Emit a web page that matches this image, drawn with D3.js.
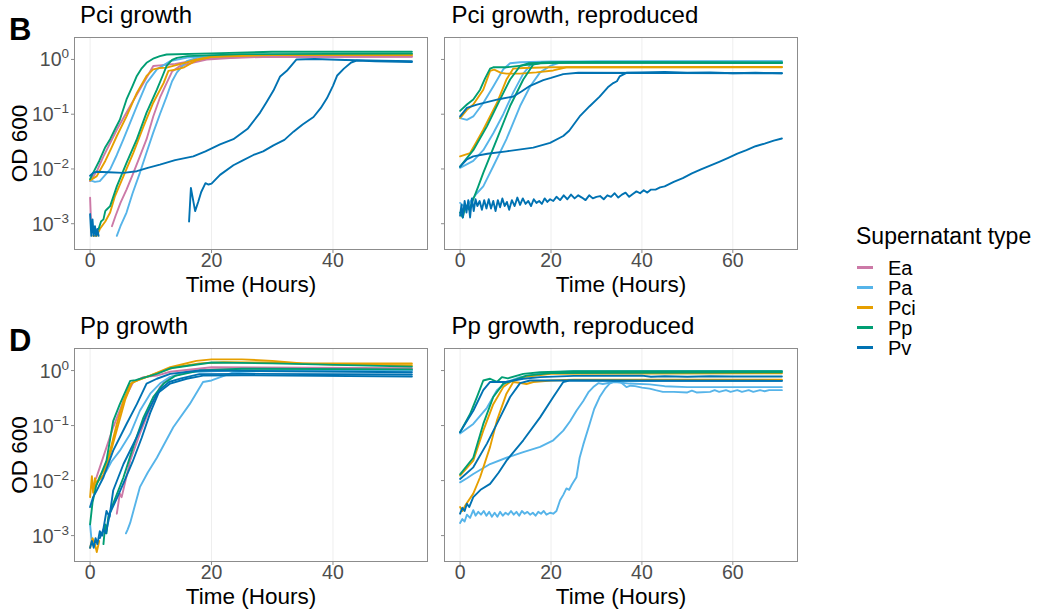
<!DOCTYPE html>
<html>
<head>
<meta charset="utf-8">
<script src="https://cdn.jsdelivr.net/npm/d3@7"></script>
<style>
  html, body { margin: 0; padding: 0; background: #fff; }
  svg { display: block; font-family: "Liberation Sans", Arial, Helvetica, sans-serif; }
</style>
</head>
<body>
<svg id="chart" width="1037" height="609"></svg>
<script>
// Supernatant types and their colours (Okabe-Ito palette)
const supernatantTypes = ["Ea", "Pa", "Pci", "Pp", "Pv"];
const typeColors = ["#CC79A7", "#56B4E9", "#E69F00", "#009E73", "#0072B2"];

// Axis ticks
const yTickValues = [1e-3, 1e-2, 1e-1, 1];
const yTickExponents = ["\u22123", "\u22122", "\u22121", "0"];
const xTicksShort = [0, 20, 40];
const xTicksLong = [0, 20, 40, 60];

// OD600 growth curves: [hours, OD600]
const pciGrowth = [
  { type: "Ea", points: [[0, 0.006], [1.2, 0.0095], [2.2, 0.017], [4.4, 0.052], [6.6, 0.141], [8.8, 0.37], [10.4, 0.76], [11.5, 0.78], [12.5, 0.8], [14, 0.83], [17, 0.95], [20, 1.05], [30, 1.12], [53, 1.13]] },
  { type: "Ea", points: [[0, 0.003], [0.15, 0.0011]] },
  { type: "Ea", points: [[3.6, 0.0009], [4.2, 0.0014], [5, 0.0024], [6, 0.0042], [7, 0.0078], [8.2, 0.017], [9.3, 0.035], [10.4, 0.091], [11.5, 0.2], [12.6, 0.37], [13.5, 0.6], [14.8, 0.76], [17, 0.88], [19.2, 1.0], [25, 1.1], [53, 1.12]] },
  { type: "Pa", points: [[0, 0.0062], [0.8, 0.0058], [1.6, 0.006], [3.3, 0.0098], [4.4, 0.018], [5.5, 0.035], [6.6, 0.07], [7.7, 0.141], [9.3, 0.37], [11, 0.66], [13.2, 0.93], [16, 1.08], [20, 1.18], [53, 1.25]] },
  { type: "Pa", points: [[4.4, 0.0006], [5, 0.0009], [6, 0.0016], [7, 0.0036], [8.2, 0.0085], [9.3, 0.02], [10.4, 0.046], [11.5, 0.1], [12.6, 0.21], [13.5, 0.4], [14.3, 0.58], [15.9, 0.93], [18, 1.1], [25, 1.2], [53, 1.25]] },
  { type: "Pci", points: [[0, 0.0062], [1.1, 0.0074], [2.5, 0.014], [3.5, 0.024], [4.4, 0.04], [6, 0.091], [7.7, 0.245], [9.3, 0.5], [10.4, 0.66], [11.5, 0.7], [12.6, 0.71], [14, 0.78], [16, 0.89], [17.5, 1.0], [20, 1.12], [25, 1.2], [53, 1.22]] },
  { type: "Pci", points: [[0.5, 0.0006], [1.1, 0.0006], [1.6, 0.0008], [2.5, 0.0011], [3.3, 0.0016], [4.1, 0.0032], [5.5, 0.0074], [7.1, 0.0195], [8.8, 0.06], [10.4, 0.162], [12.1, 0.37], [12.9, 0.62], [14.3, 0.66], [15.5, 0.72], [17.4, 0.95], [20, 1.12], [30, 1.2], [53, 1.2]] },
  { type: "Pp", points: [[0, 0.0065], [0.5, 0.0085], [1.5, 0.014], [2.5, 0.025], [3.3, 0.035], [4.2, 0.056], [4.9, 0.079], [6, 0.186], [7, 0.33], [7.7, 0.5], [8.5, 0.69], [9.3, 0.87], [10.5, 1.05], [11.5, 1.15], [12.6, 1.23], [20, 1.29], [30, 1.38], [53, 1.38]] },
  { type: "Pp", points: [[1.4, 0.0008], [1.8, 0.0011], [2.2, 0.0012], [2.5, 0.0017], [2.7, 0.0018], [3.3, 0.0021], [4.4, 0.0048], [6, 0.0129], [7.7, 0.035], [9.3, 0.107], [11, 0.28], [12, 0.52], [12.6, 0.76], [13.5, 0.98], [14.3, 1.07], [16, 1.15], [25, 1.25], [53, 1.28]] },
  { type: "Pv", points: [[0, 0.0075], [0.5, 0.0085], [1.1, 0.0089], [3, 0.0087], [5.5, 0.0085], [7.7, 0.0091], [9.5, 0.0105], [11.5, 0.012], [14, 0.0145], [17, 0.017], [19, 0.021], [21.4, 0.028], [23.6, 0.035], [26, 0.055], [28, 0.107], [29, 0.162], [30.2, 0.27], [31.3, 0.49], [32.4, 0.62], [34, 1.0], [37, 1.02], [42, 0.98], [48, 0.95], [53, 0.93]] },
  { type: "Pv", points: [[0, 0.0015], [0.2, 0.0006], [0.4, 0.0012], [0.6, 0.0006], [0.8, 0.0009], [1.0, 0.0006], [1.2, 0.0008], [1.4, 0.0006]] },
  { type: "Pv", points: [[16.3, 0.0011], [16.6, 0.0045], [17.3, 0.0017], [17.8, 0.0025], [18.3, 0.0038], [19, 0.0055], [19.5, 0.0052], [20, 0.0054], [21.4, 0.0078], [23.6, 0.0117], [25, 0.014], [26.9, 0.018], [28.5, 0.021], [30.2, 0.027], [32, 0.034], [33.5, 0.048], [35, 0.065], [36.8, 0.089], [38, 0.13], [39, 0.195], [40, 0.33], [40.7, 0.51], [41.8, 0.68], [43, 0.88], [43.9, 0.95], [47, 0.93], [53, 0.9]] }
];

const pciGrowthReproduced = [
  { type: "Pa", points: [[0, 0.085], [1.5, 0.079], [2.9, 0.091], [5.1, 0.16], [7.3, 0.32], [9.5, 0.66], [11, 0.85], [13.2, 0.89], [20, 0.92], [70.8, 0.92]] },
  { type: "Pa", points: [[0, 0.0105], [2.9, 0.014], [5.1, 0.022], [7.3, 0.045], [9.5, 0.1], [11.7, 0.25], [13.9, 0.55], [15.4, 0.78], [17, 0.88], [25, 0.9], [70.8, 0.9]] },
  { type: "Pa", points: [[0, 0.0024], [0.8, 0.0021], [1.5, 0.0021], [2.5, 0.0027], [3.7, 0.0036], [5.1, 0.0048], [7.3, 0.0112], [10.2, 0.035], [13.2, 0.141], [15.4, 0.32], [17.6, 0.58], [19.8, 0.76], [22, 0.88], [30, 0.92], [70.8, 0.93]] },
  { type: "Pci", points: [[0, 0.085], [1.5, 0.12], [2.9, 0.15], [5.1, 0.28], [6.6, 0.62], [7.5, 0.65], [9, 0.57], [10.2, 0.55], [13.2, 0.55], [16.8, 0.58], [20.5, 0.63], [23.4, 0.72], [70.8, 0.73]] },
  { type: "Pci", points: [[0, 0.017], [2.2, 0.0195], [3.5, 0.03], [5.1, 0.052], [8.1, 0.16], [10.2, 0.43], [11.7, 0.68], [14, 0.7], [20, 0.72], [70.8, 0.72]] },
  { type: "Pp", points: [[0, 0.115], [1.5, 0.15], [2.9, 0.186], [4.4, 0.28], [5.5, 0.45], [6.6, 0.68], [7.3, 0.72], [10.2, 0.72], [13.9, 0.78], [17.6, 0.85], [25, 0.89], [70.8, 0.87]] },
  { type: "Pp", points: [[0, 0.011], [2.9, 0.022], [5.9, 0.06], [8.8, 0.186], [11, 0.43], [13.2, 0.76], [15, 0.85], [20, 0.88], [70.8, 0.86]] },
  { type: "Pp", points: [[0, 0.0016], [0.6, 0.0013], [1.2, 0.0022], [2, 0.0018], [2.9, 0.0028], [4, 0.0048], [5.1, 0.0085], [8.1, 0.035], [11, 0.141], [13.9, 0.43], [16.1, 0.81], [18, 0.87], [25, 0.89], [70.8, 0.88]] },
  { type: "Pv", points: [[0, 0.091], [1.5, 0.13], [3.7, 0.15], [8.8, 0.19], [11.7, 0.21], [13.5, 0.26], [15.4, 0.33], [18.3, 0.42], [20, 0.46], [22.7, 0.54], [26, 0.57], [70.8, 0.56]] },
  { type: "Pv", points: [[0, 0.011], [1.5, 0.015], [2.9, 0.017], [6, 0.019], [10.2, 0.021], [16.1, 0.0245], [19.8, 0.03], [22.7, 0.04], [24, 0.05], [26.3, 0.091], [28.5, 0.14], [30.7, 0.21], [32.5, 0.31], [33.7, 0.37], [34.5, 0.4], [35.1, 0.49], [36.6, 0.57], [40, 0.58], [45, 0.59], [50, 0.57], [55, 0.58], [60, 0.56], [65, 0.57], [70.8, 0.56]] },
  { type: "Pv", points: [[0, 0.0014], [0.3, 0.0022], [0.6, 0.0013], [1.0, 0.0026], [1.4, 0.0016], [1.8, 0.0027], [2.2, 0.0013], [2.6, 0.0029], [3.0, 0.0017], [3.4, 0.0028], [3.8, 0.0021], [4.3, 0.0026], [4.8, 0.0018], [5.3, 0.0027], [5.8, 0.0019], [6.3, 0.0028], [6.8, 0.0019], [7.3, 0.0026], [7.8, 0.0017], [8.3, 0.0027], [8.8, 0.002], [9.3, 0.0029], [9.8, 0.0021], [10.3, 0.0025], [10.8, 0.0018], [11.4, 0.0027], [12, 0.0021], [12.6, 0.003], [13.2, 0.0022], [13.8, 0.0029], [14.4, 0.0023], [15, 0.0026], [15.6, 0.0021], [16.2, 0.0028], [16.8, 0.0024], [17.4, 0.0026], [18, 0.0023], [18.6, 0.0029], [19.2, 0.0025], [19.8, 0.0028], [20.5, 0.0026], [21.2, 0.0031], [22, 0.0027], [22.8, 0.0033], [23.6, 0.0028], [24.4, 0.0034], [25.2, 0.0029], [26, 0.0033], [26.8, 0.003], [27.6, 0.0027], [28.4, 0.0033], [29.2, 0.0029], [30, 0.0031], [30.8, 0.0032], [31.6, 0.0028], [32.4, 0.0033], [33.2, 0.0031], [34, 0.0036], [34.8, 0.003], [35.6, 0.0034], [36.4, 0.0037], [37.2, 0.0031], [38, 0.0035], [38.8, 0.0039], [39.6, 0.0036], [40.4, 0.0041], [41.2, 0.0037], [42, 0.0042], [43, 0.0042], [44, 0.0046], [45, 0.0048], [47, 0.0058], [49, 0.0068], [51, 0.0083], [53, 0.0098], [55, 0.0115], [57, 0.0135], [59, 0.016], [61, 0.019], [63, 0.022], [65, 0.026], [67, 0.029], [69, 0.033], [70.8, 0.036]] }
];

const ppGrowth = [
  { type: "Ea", points: [[1, 0.011], [1.6, 0.0174], [3.8, 0.093], [5.5, 0.28], [7.1, 0.62], [8.8, 0.76], [11, 0.81], [13.2, 0.95], [20, 1.15], [53, 1.1]] },
  { type: "Ea", points: [[4.4, 0.0025], [4.9, 0.0058], [5.2, 0.005], [6.6, 0.023], [8.2, 0.071], [9.9, 0.21], [11.5, 0.5], [13.2, 0.76], [16, 0.95], [20, 1.05], [53, 1.07]] },
  { type: "Pa", points: [[0, 0.0016], [0.3, 0.0007]] },
  { type: "Pa", points: [[1, 0.009], [1.8, 0.011], [2.7, 0.015], [3.5, 0.022], [4.9, 0.035], [6.6, 0.07], [8.2, 0.186], [9.9, 0.38], [11.5, 0.58], [13, 0.75], [16, 0.93], [25, 1.02], [53, 1.0]] },
  { type: "Pa", points: [[5.9, 0.0011], [6.2, 0.0013], [6.6, 0.0017], [8.2, 0.0076], [9.5, 0.014], [11, 0.026], [13.7, 0.093], [16.4, 0.245], [18.6, 0.62], [20, 0.66], [23.6, 0.93], [30, 1.0], [53, 1.0]] },
  { type: "Pci", points: [[0, 0.005], [0.3, 0.012], [0.5, 0.006], [0.8, 0.011], [1.1, 0.0087], [1.6, 0.012], [2.2, 0.015], [3.3, 0.035], [4.4, 0.107], [5.5, 0.28], [6.6, 0.57], [7.7, 0.66], [9.9, 0.81], [13.2, 1.15], [17.5, 1.5], [20, 1.6], [25, 1.6], [30, 1.5], [35, 1.35], [45, 1.35], [53, 1.35]] },
  { type: "Pci", points: [[0, 0.0006], [0.4, 0.0009], [0.8, 0.0007], [1.1, 0.0005], [1.5, 0.0008]] },
  { type: "Pci", points: [[0.6, 0.007], [1.2, 0.0095], [2.2, 0.0125], [3.3, 0.03], [4.6, 0.1], [5.8, 0.3], [6.9, 0.6], [8, 0.68], [10.5, 0.86], [14, 1.15], [18, 1.35], [22, 1.42], [30, 1.4], [40, 1.28], [53, 1.25]] },
  { type: "Pp", points: [[0, 0.0016], [0.4, 0.004], [1, 0.008], [1.6, 0.0115], [2.7, 0.023], [3.8, 0.12], [4.9, 0.245], [6.6, 0.65], [7.5, 0.67], [11, 0.87], [13.2, 1.1], [20, 1.4], [30, 1.35], [53, 1.18]] },
  { type: "Pp", points: [[2.2, 0.0007], [2.5, 0.0016], [2.7, 0.0011], [3.0, 0.0022], [3.8, 0.0038], [5.5, 0.0115], [7.1, 0.041], [8.8, 0.141], [10.4, 0.33], [12.1, 0.58], [14, 0.8], [18, 1.0], [25, 1.08], [53, 1.05]] },
  { type: "Pv", points: [[0, 0.0033], [0.5, 0.005], [1, 0.0063], [2.2, 0.0115], [3.8, 0.035], [6, 0.107], [7.7, 0.245], [9.3, 0.58], [11, 0.71], [13.2, 0.87], [18, 1.0], [53, 0.93]] },
  { type: "Pv", points: [[0, 0.0006], [0.3, 0.0008], [0.6, 0.0006], [0.9, 0.0009], [1.2, 0.0007], [1.6, 0.0012], [2, 0.001], [2.7, 0.0028], [3.2, 0.0022], [3.8, 0.0066], [5.5, 0.02], [7.7, 0.062], [9.3, 0.16], [11, 0.38], [13.2, 0.58], [15.9, 0.71], [18.6, 0.81], [25, 0.82], [53, 0.78]] },
  { type: "Pv", points: [[1.6, 0.0009], [2.2, 0.0013], [2.6, 0.0011], [3.3, 0.0026], [4.5, 0.005], [5.5, 0.009], [7, 0.022], [8.5, 0.06], [9.9, 0.17], [11.5, 0.45], [13, 0.62], [15, 0.72], [18, 0.86], [25, 0.87], [53, 0.85]] }
];

const ppGrowthReproduced = [
  { type: "Pa", points: [[0, 0.072], [2.9, 0.107], [5.9, 0.21], [8.1, 0.44], [10.2, 0.62], [13.2, 0.76], [18, 0.9], [25, 0.97], [70.8, 0.98]] },
  { type: "Pa", points: [[0, 0.0093], [1.5, 0.011], [2.9, 0.0132], [6.6, 0.02], [10.2, 0.026], [13.9, 0.033], [17.6, 0.041], [20.5, 0.054], [22.7, 0.081], [24.2, 0.12], [25.6, 0.186], [27.1, 0.28], [28.3, 0.41], [29.3, 0.5], [30.4, 0.59], [31.4, 0.57], [32.9, 0.6], [34, 0.62], [37.3, 0.58], [41.7, 0.56], [45, 0.52], [50, 0.5], [60, 0.5], [70.8, 0.5]] },
  { type: "Pa", points: [[0, 0.0017], [0.5, 0.002], [1, 0.0018], [1.5, 0.0024], [2.2, 0.0021], [2.9, 0.0029], [3.4, 0.0023], [4, 0.0027], [4.6, 0.0024], [5.2, 0.0028], [5.8, 0.0023], [6.4, 0.0027], [7, 0.0022], [7.6, 0.0026], [8.2, 0.0022], [8.8, 0.0027], [9.4, 0.0023], [10, 0.0026], [10.6, 0.0024], [11.2, 0.0028], [11.8, 0.0024], [12.4, 0.0027], [13, 0.0023], [13.6, 0.0028], [14.2, 0.0025], [14.8, 0.0027], [15.4, 0.0024], [16, 0.0026], [16.6, 0.0023], [17.2, 0.0027], [17.8, 0.0025], [18.4, 0.0028], [19, 0.0024], [19.8, 0.0026], [20.5, 0.0025], [21.2, 0.0028], [22, 0.0044], [22.7, 0.0055], [23.4, 0.0072], [24, 0.0068], [24.6, 0.0085], [25.6, 0.0115], [26.3, 0.026], [27.1, 0.045], [28.5, 0.107], [29.5, 0.2], [30.7, 0.33], [32, 0.48], [32.9, 0.58], [34.4, 0.66], [35.5, 0.6], [36.6, 0.5], [37.5, 0.53], [38.5, 0.52], [40, 0.49], [41.7, 0.47], [43, 0.44], [44.6, 0.41], [47, 0.41], [50, 0.4], [51, 0.43], [52, 0.4], [55, 0.41], [56, 0.44], [57, 0.41], [58.5, 0.44], [59.5, 0.41], [61, 0.44], [62, 0.41], [63.5, 0.44], [64.5, 0.41], [66, 0.44], [67, 0.42], [68, 0.44], [70.8, 0.44]] },
  { type: "Pci", points: [[0, 0.0123], [2.9, 0.023], [5.1, 0.081], [7.3, 0.245], [9.5, 0.5], [11, 0.62], [14, 0.76], [20, 0.87], [70.8, 0.89]] },
  { type: "Pci", points: [[0, 0.0033], [0.5, 0.0028], [1.2, 0.0036], [2.9, 0.0058], [4.4, 0.0115], [6.6, 0.041], [8.1, 0.123], [10.2, 0.38], [11.7, 0.62], [13, 0.6], [14.6, 0.57], [16.1, 0.62], [20, 0.66], [25, 0.68], [70.8, 0.68]] },
  { type: "Pp", points: [[0, 0.076], [2.2, 0.162], [3.7, 0.33], [5.1, 0.66], [6.6, 0.71], [8.1, 0.62], [9.2, 0.76], [10.5, 0.72], [13.9, 0.87], [17.6, 0.93], [25, 0.97], [70.8, 0.97]] },
  { type: "Pp", points: [[0, 0.013], [2.9, 0.026], [5.1, 0.107], [7.3, 0.33], [9.5, 0.58], [11, 0.63], [14.6, 0.81], [20, 0.9], [70.8, 0.93]] },
  { type: "Pv", points: [[0, 0.076], [2.9, 0.186], [5.1, 0.44], [6.6, 0.62], [10, 0.62], [13.9, 0.71], [17.6, 0.76], [25, 0.8], [40, 0.81], [42, 0.77], [45, 0.79], [50, 0.77], [55, 0.79], [60, 0.78], [70.8, 0.78]] },
  { type: "Pv", points: [[0, 0.0107], [2.9, 0.0174], [5.9, 0.047], [8.8, 0.141], [11, 0.33], [13.2, 0.59], [15.4, 0.66], [25, 0.66], [40, 0.65], [70.8, 0.65]] },
  { type: "Pv", points: [[0, 0.0025], [0.5, 0.0032], [1, 0.0028], [1.5, 0.0038], [2, 0.0033], [2.9, 0.005], [4.5, 0.0068], [6.6, 0.0087], [8.5, 0.014], [10.2, 0.023], [13.9, 0.054], [17.6, 0.141], [20.5, 0.33], [22.7, 0.62], [24, 0.66], [30, 0.66], [70.8, 0.65]] }
];

// ---- layout ----
const svg = d3.select("#chart");
const colorOf = d3.scaleOrdinal().domain(supernatantTypes).range(typeColors);
const yDomain = [Math.pow(10, -3.48), Math.pow(10, 0.41)];
const fontTick = 19.5, fontAxisTitle = 22.5, fontTitle = 24;

const panels = [
  { title: "Pci growth", tag: "B", data: pciGrowth, xMax: 53, xTicks: xTicksShort, x0: 74, x1: 428, y0: 37, y1: 250, yLabels: true },
  { title: "Pci growth, reproduced", data: pciGrowthReproduced, xMax: 70.8, xTicks: xTicksLong, x0: 444, x1: 798, y0: 37, y1: 250, yLabels: false },
  { title: "Pp growth", tag: "D", data: ppGrowth, xMax: 53, xTicks: xTicksShort, x0: 74, x1: 428, y0: 348, y1: 562, yLabels: true },
  { title: "Pp growth, reproduced", data: ppGrowthReproduced, xMax: 70.8, xTicks: xTicksLong, x0: 444, x1: 798, y0: 348, y1: 562, yLabels: false }
];

panels.forEach(p => {
  const x = d3.scaleLinear().domain([-0.05 * p.xMax, 1.05 * p.xMax]).range([p.x0, p.x1]);
  const y = d3.scaleLog().domain(yDomain).range([p.y1, p.y0]);
  const g = svg.append("g");

  // vertical grid lines at major breaks
  g.selectAll("line.grid").data(p.xTicks).enter().append("line")
    .attr("x1", d => x(d)).attr("x2", d => x(d))
    .attr("y1", p.y0).attr("y2", p.y1)
    .attr("stroke", "#eeeeee").attr("stroke-width", 1);

  // growth curves
  const line = d3.line().x(d => x(d[0])).y(d => y(d[1]));
  const ordered = p.data.slice().sort((a, b) => supernatantTypes.indexOf(a.type) - supernatantTypes.indexOf(b.type));
  g.selectAll("path.curve").data(ordered).enter().append("path")
    .attr("d", d => line(d.points))
    .attr("fill", "none")
    .attr("stroke", d => colorOf(d.type))
    .attr("stroke-width", 1.9)
    .attr("stroke-linejoin", "round")
    .attr("stroke-linecap", "round");

  // panel border
  g.append("rect")
    .attr("x", p.x0 + 0.5).attr("y", p.y0 + 0.5)
    .attr("width", p.x1 - p.x0 - 1).attr("height", p.y1 - p.y0 - 1)
    .attr("fill", "none").attr("stroke", "#8c8c8c").attr("stroke-width", 1);

  // x axis ticks and labels
  g.selectAll("line.xtick").data(p.xTicks).enter().append("line")
    .attr("x1", d => x(d)).attr("x2", d => x(d))
    .attr("y1", p.y1).attr("y2", p.y1 + 3)
    .attr("stroke", "#8c8c8c");
  g.selectAll("text.xlab").data(p.xTicks).enter().append("text")
    .attr("x", d => x(d)).attr("y", p.y1 + 17)
    .attr("text-anchor", "middle")
    .attr("font-size", fontTick).attr("fill", "#4d4d4d")
    .text(d => d3.format("d")(d));

  // y axis ticks
  g.selectAll("line.ytick").data(yTickValues).enter().append("line")
    .attr("x1", p.x0 - 3).attr("x2", p.x0)
    .attr("y1", d => y(d)).attr("y2", d => y(d))
    .attr("stroke", "#8c8c8c");

  if (p.yLabels) {
    const lab = g.selectAll("text.ylab").data(yTickValues).enter().append("text")
      .attr("x", p.x0 - 5).attr("y", d => y(d) + 7)
      .attr("text-anchor", "end")
      .attr("font-size", fontTick).attr("fill", "#4d4d4d");
    lab.append("tspan").text("10");
    lab.append("tspan").attr("dy", -8).attr("font-size", 13.5).text((d, i) => yTickExponents[i]);

    g.append("text")
      .attr("transform", `translate(26.5, ${(p.y0 + p.y1) / 2}) rotate(-90)`)
      .attr("text-anchor", "middle")
      .attr("font-size", fontAxisTitle).attr("fill", "#000")
      .text("OD 600");
  }

  // x axis title
  g.append("text")
    .attr("x", (p.x0 + p.x1) / 2).attr("y", p.y1 + 41.5)
    .attr("text-anchor", "middle")
    .attr("font-size", fontAxisTitle).attr("fill", "#000")
    .text("Time (Hours)");

  // panel title
  g.append("text")
    .attr("x", p.x0 + (p.yLabels ? 6 : 7.5)).attr("y", p.y0 - 14)
    .attr("font-size", fontTitle).attr("fill", "#000")
    .text(p.title);

  // panel tag letter
  if (p.tag) {
    g.append("text")
      .attr("x", 9).attr("y", p.y0 + 3)
      .attr("font-size", 31).attr("font-weight", "bold").attr("fill", "#000")
      .text(p.tag);
  }
});

// ---- legend ----
const legend = svg.append("g");
legend.append("text")
  .attr("x", 856).attr("y", 244)
  .attr("font-size", 23).attr("fill", "#000")
  .text("Supernatant type");
const items = legend.selectAll("g.item").data(supernatantTypes).enter().append("g");
items.append("line")
  .attr("x1", 857).attr("x2", 873)
  .attr("y1", (d, i) => 267.5 + i * 20).attr("y2", (d, i) => 267.5 + i * 20)
  .attr("stroke", d => colorOf(d)).attr("stroke-width", 3);
items.append("text")
  .attr("x", 888).attr("y", (d, i) => 275 + i * 20)
  .attr("font-size", 20).attr("fill", "#000")
  .text(d => d);
</script>
</body>
</html>
